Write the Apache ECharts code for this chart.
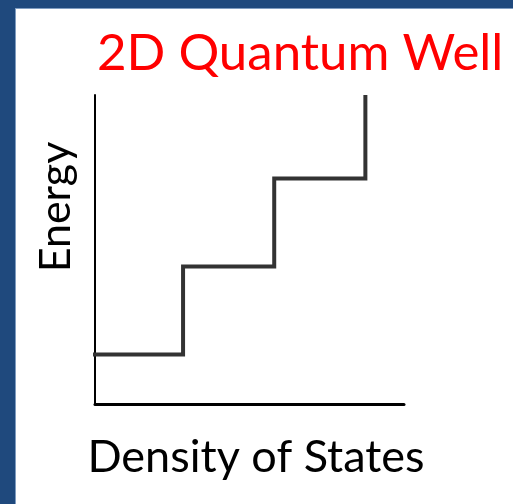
<!DOCTYPE html>
<html>
<head>
<meta charset="utf-8">
<title>2D Quantum Well</title>
<script src="https://cdn.jsdelivr.net/npm/echarts@6/dist/echarts.min.js"></script>
<style>
  html, body { margin: 0; padding: 0; background: #ffffff; }
  #chart { width: 513px; height: 504px; }
</style>
</head>
<body>
<div id="chart"></div>
<script>
// Staircase density of states of a 2D quantum well:
// each subband edge adds a constant step to the DOS.
const dosValues    = [-0.1, 2.85, 2.85, 5.8, 5.8, 8.75, 8.75];
const energyValues = [1.6, 1.6, 4.45, 4.45, 7.3, 7.3, 10];

const chartTitle = '2D Quantum Well';
const xAxisName = 'Density of States';
const yAxisName = 'Energy';

const staircase = dosValues.map((d, i) => [d, energyValues[i]]);

const chart = echarts.init(document.getElementById('chart'), null, { renderer: 'canvas' });

chart.setOption({
  backgroundColor: '#ffffff',
  animation: false,
  title: {
    text: chartTitle,
    left: 92,
    top: 23,
    textStyle: {
      color: '#ff0000',
      fontFamily: 'Lato',
      fontWeight: 'normal',
      fontSize: 51
    }
  },
  graphic: [
    // slide frame: blue band down the left edge and across the top
    { type: 'rect', shape: { x: 0, y: 0, width: 15, height: 504 }, style: { fill: '#1f497d' } },
    { type: 'rect', shape: { x: 0, y: 0, width: 513, height: 8 }, style: { fill: '#1f497d' } },
    { type: 'rect', shape: { x: 15, y: 8, width: 1, height: 496 }, style: { fill: '#7f9cc0' } },
    { type: 'rect', shape: { x: 15, y: 8, width: 498, height: 1 }, style: { fill: '#7f9cc0' } },
    // axis titles
    {
      type: 'text', x: 256, y: 457,
      style: { text: xAxisName, font: '45px Lato', fill: '#000000', align: 'center', verticalAlign: 'middle' }
    },
    {
      type: 'text', x: 56, y: 207, rotation: Math.PI / 2,
      style: { text: yAxisName, font: '43px Lato', fill: '#000000', align: 'center', verticalAlign: 'middle' }
    }
  ],
  grid: { left: 95, right: 109, top: 95, bottom: 100, containLabel: false },
  xAxis: {
    type: 'value',
    min: 0,
    max: 10,
    axisLine: { show: true, onZero: false, lineStyle: { color: '#000000', width: 3 } },
    axisTick: { show: false },
    axisLabel: { show: false },
    splitLine: { show: false }
  },
  yAxis: {
    type: 'value',
    min: 0,
    max: 10,
    axisLine: { show: true, onZero: false, lineStyle: { color: '#000000', width: 2 } },
    axisTick: { show: false },
    axisLabel: { show: false },
    splitLine: { show: false }
  },
  series: [{
    type: 'line',
    data: staircase,
    clip: false,
    symbol: 'none',
    lineStyle: { color: '#333333', width: 4, join: 'miter', cap: 'butt' }
  }]
});
</script>
</body>
</html>
